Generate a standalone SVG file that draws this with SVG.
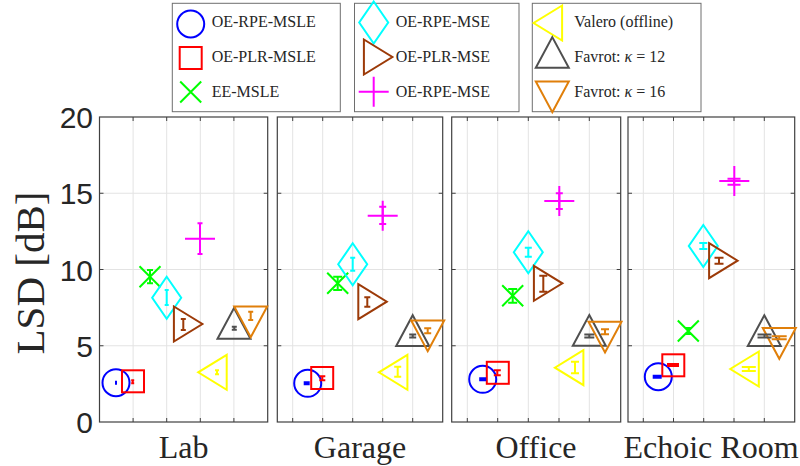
<svg xmlns="http://www.w3.org/2000/svg" xmlns:xlink="http://www.w3.org/1999/xlink" width="800" height="466" viewBox="0 0 800 466">
  <style>
    .bg{fill:#ffffff}
    .ax{fill:none;stroke:#404040;stroke-width:1.2}
    .grid{fill:none;stroke:#e3e3e3;stroke-width:1}
    .tick{fill:none;stroke:#404040;stroke-width:1}
    .ytl{font-family:"Liberation Sans",Arial,sans-serif;font-size:30px;fill:#262626;text-anchor:end}
    .serif{font-family:"Liberation Serif","Times New Roman",serif;fill:#262626}
    .xl{font-size:32px;text-anchor:middle}
    .yl{font-size:41px;text-anchor:middle}
    .lt{font-size:16px}
    .lg{fill:#ffffff;stroke:#6e6e6e;stroke-width:1}
    .mk{fill:none;stroke-width:2;stroke-linejoin:miter}
    .eb{fill:none;stroke-width:2}
    .c1{stroke:#0000ff}
    .c2{stroke:#ff0000}
    .c3{stroke:#00ff00}
    .c4{stroke:#00ffff}
    .c5{stroke:#9c3a08}
    .c6{stroke:#ff00ff}
    .c7{stroke:#ffff00}
    .c8{stroke:#4f4f4f}
    .c9{stroke:#e07f0a}
  </style>
  <defs>
    <circle id="mO" r="13.5"/>
    <rect id="mS" x="-11" y="-11" width="22" height="22"/>
    <path id="mX" d="M-10.5,-10.5L10.5,10.5M-10.5,10.5L10.5,-10.5"/>
    <path id="mD" d="M0,-21L14.5,0L0,21L-14.5,0Z"/>
    <path id="mR" d="M-9.5,-17.5L19,0L-9.5,17.5Z"/>
    <path id="mP" d="M-15,0H15M0,-15V15"/>
    <path id="mL" d="M9.5,-17.5L-19,0L9.5,17.5Z"/>
    <path id="mU" d="M0,-20.5L16.5,10.25L-16.5,10.25Z"/>
    <path id="mV" d="M0,20.5L16.5,-10.25L-16.5,-10.25Z"/>
  </defs>

  <rect class="bg" x="0" y="0" width="800" height="466"/>

  <!-- axes frames, grids and ticks -->
  <g id="axes">
    <g id="panel-lab">
      <path class="grid" d="M133.1,117V422M166.7,117V422M200.3,117V422M233.9,117V422M99.5,345.75H267.7M99.5,269.5H267.7M99.5,193.25H267.7"/>
      <path class="tick" d="M133.1,422v-4M166.7,422v-4M200.3,422v-4M233.9,422v-4M133.1,117v4M166.7,117v4M200.3,117v4M233.9,117v4M99.5,345.75h4M99.5,269.5h4M99.5,193.25h4M267.7,345.75h-4M267.7,269.5h-4M267.7,193.25h-4"/>
      <rect class="ax" x="99.5" y="117" width="168.2" height="305"/>
    </g>
    <g id="panel-garage">
      <path class="grid" d="M292.7,117V422M322.7,117V422M352.7,117V422M382.7,117V422M412.7,117V422M277.3,345.75H442.7M277.3,269.5H442.7M277.3,193.25H442.7"/>
      <path class="tick" d="M292.7,422v-4M322.7,422v-4M352.7,422v-4M382.7,422v-4M412.7,422v-4M292.7,117v4M322.7,117v4M352.7,117v4M382.7,117v4M412.7,117v4M277.3,345.75h4M277.3,269.5h4M277.3,193.25h4M442.7,345.75h-4M442.7,269.5h-4M442.7,193.25h-4"/>
      <rect class="ax" x="277.3" y="117" width="165.4" height="305"/>
    </g>
    <g id="panel-office">
      <path class="grid" d="M467.3,117V422M497.7,117V422M528.3,117V422M559,117V422M589.3,117V422M451.7,345.75H620.7M451.7,269.5H620.7M451.7,193.25H620.7"/>
      <path class="tick" d="M467.3,422v-4M497.7,422v-4M528.3,422v-4M559,422v-4M589.3,422v-4M467.3,117v4M497.7,117v4M528.3,117v4M559,117v4M589.3,117v4M451.7,345.75h4M451.7,269.5h4M451.7,193.25h4M620.7,345.75h-4M620.7,269.5h-4M620.7,193.25h-4"/>
      <rect class="ax" x="451.7" y="117" width="169" height="305"/>
    </g>
    <g id="panel-echoic">
      <path class="grid" d="M643.3,117V422M673.5,117V422M703.7,117V422M734,117V422M764.3,117V422M628,345.75H794.7M628,269.5H794.7M628,193.25H794.7"/>
      <path class="tick" d="M643.3,422v-4M673.5,422v-4M703.7,422v-4M734,422v-4M764.3,422v-4M643.3,117v4M673.5,117v4M703.7,117v4M734,117v4M764.3,117v4M628,345.75h4M628,269.5h4M628,193.25h4M794.7,345.75h-4M794.7,269.5h-4M794.7,193.25h-4"/>
      <rect class="ax" x="628" y="117" width="166.7" height="305"/>
    </g>
  </g>

  <!-- y tick labels -->
  <g id="yticks">
    <text class="ytl" x="93" y="128">20</text>
    <text class="ytl" x="93" y="204.3">15</text>
    <text class="ytl" x="93" y="280.5">10</text>
    <text class="ytl" x="93" y="356.8">5</text>
    <text class="ytl" x="93" y="433">0</text>
  </g>

  <!-- axis labels -->
  <text class="serif yl" transform="translate(44,273) rotate(-90)">LSD [dB]</text>
  <g id="xlabels">
    <text class="serif xl" x="183.6" y="458">Lab</text>
    <text class="serif xl" x="360" y="458">Garage</text>
    <text class="serif xl" x="536" y="458">Office</text>
    <text class="serif xl" x="711" y="458">Echoic Room</text>
  </g>

  <!-- markers -->
  <g id="markers">
    <g id="lab-data">
      <use href="#mO" class="mk c1" x="116" y="382.7"/>
      <use href="#mS" class="mk c2" x="133" y="381.3"/>
      <use href="#mX" class="mk c3" x="150" y="276.7"/>
      <use href="#mD" class="mk c4" x="166.7" y="297.7"/>
      <use href="#mR" class="mk c5" x="183.4" y="324"/>
      <use href="#mP" class="mk c6" x="200" y="238.7"/>
      <use href="#mL" class="mk c7" x="217.2" y="372.3"/>
      <use href="#mU" class="mk c8" x="234" y="328.6"/>
      <use href="#mV" class="mk c9" x="250.7" y="316.7"/>
    </g>
    <g id="garage-data">
      <use href="#mO" class="mk c1" x="307.7" y="383.3"/>
      <use href="#mS" class="mk c2" x="322.2" y="378"/>
      <use href="#mX" class="mk c3" x="337.7" y="283.3"/>
      <use href="#mD" class="mk c4" x="352.7" y="264.3"/>
      <use href="#mR" class="mk c5" x="367.8" y="301.7"/>
      <use href="#mP" class="mk c6" x="382.7" y="215.7"/>
      <use href="#mL" class="mk c7" x="397.9" y="372.3"/>
      <use href="#mU" class="mk c8" x="412.7" y="335.7"/>
      <use href="#mV" class="mk c9" x="427.7" y="330.7"/>
    </g>
    <g id="office-data">
      <use href="#mO" class="mk c1" x="482.7" y="379.3"/>
      <use href="#mS" class="mk c2" x="497.8" y="372.8"/>
      <use href="#mX" class="mk c3" x="512.7" y="295.7"/>
      <use href="#mD" class="mk c4" x="528.3" y="252.3"/>
      <use href="#mR" class="mk c5" x="543.4" y="283.3"/>
      <use href="#mP" class="mk c6" x="559.3" y="201"/>
      <use href="#mL" class="mk c7" x="573.9" y="367.7"/>
      <use href="#mU" class="mk c8" x="589.3" y="335.5"/>
      <use href="#mV" class="mk c9" x="605" y="332"/>
    </g>
    <g id="echoic-data">
      <use href="#mO" class="mk c1" x="658.3" y="376.7"/>
      <use href="#mS" class="mk c2" x="673.3" y="365.3"/>
      <use href="#mX" class="mk c3" x="688.3" y="331"/>
      <use href="#mD" class="mk c4" x="703.3" y="246"/>
      <use href="#mR" class="mk c5" x="718.6" y="260.7"/>
      <use href="#mP" class="mk c6" x="734.3" y="181"/>
      <use href="#mL" class="mk c7" x="749.3" y="369"/>
      <use href="#mU" class="mk c8" x="764.3" y="335.8"/>
      <use href="#mV" class="mk c9" x="779.3" y="338.3"/>
    </g>
  </g>

  <!-- error bars (stem with caps) -->
  <g id="errorbars">
    <g id="lab-err">
      <path class="eb c1" d="M115,381.7h2M115,383.7h2M116,381.7v2"/>
      <path class="eb c2" d="M131.2,380.2h3M131.2,383.2h3M132.7,380.2v3"/>
      <path class="eb c3" d="M147,270h6M147,283.3h6M150,270v13.3"/>
      <path class="eb c4" d="M164.7,290h4M164.7,305h4M166.7,290v15"/>
      <path class="eb c5" d="M180.8,319h5M180.8,330h5M183.3,319v11"/>
      <path class="eb c6" d="M197.5,223.3h5M197.5,254h5M200,223.3v30.7"/>
      <path class="eb c7" d="M215,370.3h4M215,374.3h4M217,370.3v4"/>
      <path class="eb c8" d="M231.8,326.8h5M231.8,329.8h5M234.3,326.8v3"/>
      <path class="eb c9" d="M248.2,311.7h5M248.2,320h5M250.7,311.7v8.3"/>
    </g>
    <g id="garage-err">
      <path class="eb c1" d="M303.7,382.3h6M303.7,384.3h6M306.7,382.3v2"/>
      <path class="eb c2" d="M319.3,376.3h6M319.3,380.3h6M322.3,376.3v4"/>
      <path class="eb c3" d="M333.2,276.7h9M333.2,290h9M337.7,276.7v13.3"/>
      <path class="eb c4" d="M350.2,257.7h5M350.2,270.7h5M352.7,257.7v13"/>
      <path class="eb c5" d="M364.3,297.3h6M364.3,306.7h6M367.3,297.3v9.4"/>
      <path class="eb c6" d="M379.2,206.7h7M379.2,224h7M382.7,206.7v17.3"/>
      <path class="eb c7" d="M394.2,366.7h7M394.2,376.7h7M397.7,366.7v10"/>
      <path class="eb c8" d="M409.2,334.5h7M409.2,337.5h7M412.7,334.5v3"/>
      <path class="eb c9" d="M424.2,328.2h7M424.2,333.2h7M427.7,328.2v5"/>
    </g>
    <g id="office-err">
      <path class="eb c1" d="M479.2,378.3h7M479.2,380.3h7M482.7,378.3v2"/>
      <path class="eb c2" d="M493.8,370.2h7M493.8,375.2h7M497.3,370.2v5"/>
      <path class="eb c3" d="M508.2,289h9M508.2,302.7h9M512.7,289v13.7"/>
      <path class="eb c4" d="M524.8,247.7h7M524.8,256.7h7M528.3,247.7v9"/>
      <path class="eb c5" d="M539.3,275.7h8M539.3,291.7h8M543.3,275.7v16"/>
      <path class="eb c6" d="M555.8,193.3h7M555.8,209h7M559.3,193.3v15.7"/>
      <path class="eb c7" d="M571,361.7h8M571,373.3h8M575,361.7v11.6"/>
      <path class="eb c8" d="M584.3,334.5h10M584.3,337.5h10M589.3,334.5v3"/>
      <path class="eb c9" d="M601,329.2h8M601,334.2h8M605,329.2v5"/>
    </g>
    <g id="echoic-err">
      <path class="eb c1" d="M652.7,375.7h9M652.7,377.7h9M657.2,375.7v2"/>
      <path class="eb c2" d="M667,364h12M667,366h12M673,364v2"/>
      <path class="eb c3" d="M685.3,328h6M685.3,334h6M688.3,328v6"/>
      <path class="eb c4" d="M699.3,243h8M699.3,249h8M703.3,243v6"/>
      <path class="eb c5" d="M714.5,257.7h9M714.5,263.7h9M719,257.7v6"/>
      <path class="eb c6" d="M727.5,178.7h13M727.5,184.7h13M734,178.7v6"/>
      <path class="eb c7" d="M741.8,367h14M741.8,371h14M748.8,367v4"/>
      <path class="eb c8" d="M757.5,334.5h14M757.5,337.5h14M764.5,334.5v3"/>
      <path class="eb c9" d="M771.7,336.2h15M771.7,339.2h15M779.2,336.2v3"/>
    </g>
  </g>

  <!-- legends -->
  <g id="legend-1">
    <rect class="lg" x="172.3" y="3.3" width="168" height="108.4"/>
    <use href="#mO" class="mk c1" x="190.7" y="24"/>
    <use href="#mS" class="mk c2" x="190.7" y="58"/>
    <use href="#mX" class="mk c3" x="190.7" y="92"/>
    <text class="serif lt" x="211.7" y="27.3">OE-RPE-MSLE</text>
    <text class="serif lt" x="211.7" y="61.7">OE-PLR-MSLE</text>
    <text class="serif lt" x="211.7" y="96.7">EE-MSLE</text>
  </g>
  <g id="legend-2">
    <rect class="lg" x="354.5" y="3.3" width="164.5" height="108.4"/>
    <use href="#mD" class="mk c4" x="373.7" y="22.5"/>
    <use href="#mR" class="mk c5" x="373.4" y="57"/>
    <use href="#mP" class="mk c6" x="373.7" y="91.7"/>
    <text class="serif lt" x="395.7" y="27.3">OE-RPE-MSE</text>
    <text class="serif lt" x="395.7" y="61.7">OE-PLR-MSE</text>
    <text class="serif lt" x="395.7" y="96.7">OE-RPE-MSE</text>
  </g>
  <g id="legend-3">
    <rect class="lg" x="532.3" y="3.3" width="168.7" height="108.4"/>
    <use href="#mL" class="mk c7" x="552.6" y="23"/>
    <use href="#mU" class="mk c8" x="552.3" y="57.6"/>
    <use href="#mV" class="mk c9" x="552.3" y="91.7"/>
    <text class="serif lt" x="574.3" y="27.3">Valero (offline)</text>
    <text class="serif lt" x="574.3" y="62.3">Favrot: <tspan font-style="italic">κ</tspan> = 12</text>
    <text class="serif lt" x="574.3" y="96.7">Favrot: <tspan font-style="italic">κ</tspan> = 16</text>
  </g>
</svg>
